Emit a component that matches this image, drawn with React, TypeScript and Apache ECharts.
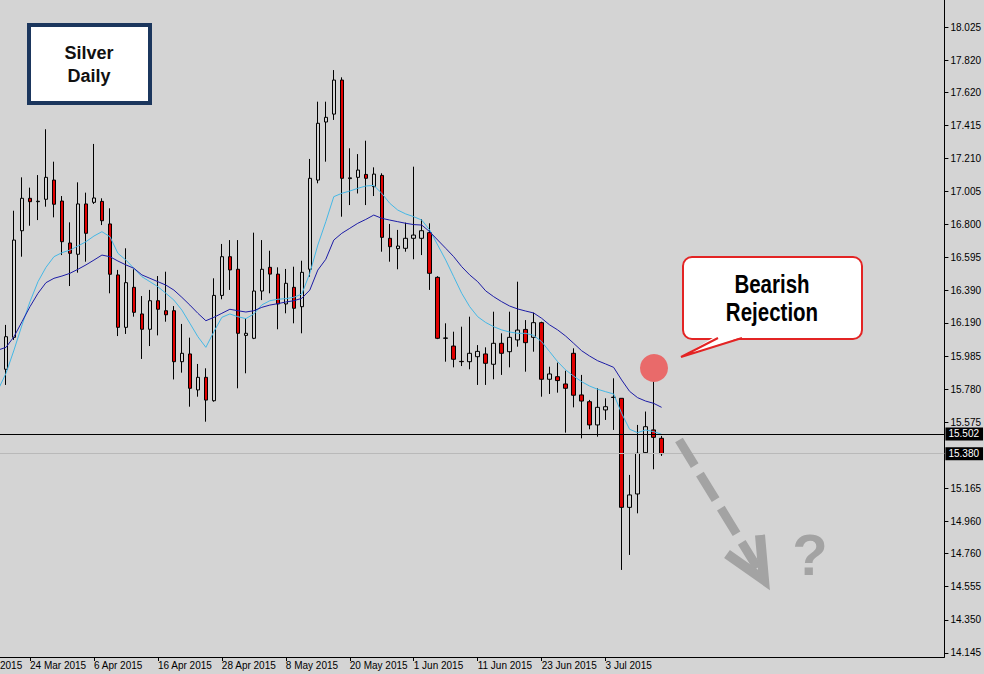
import React, { useEffect, useRef } from "react";
import * as echarts from "echarts";

// ---- data ----
const dates = [
  "2015-03-18", "2015-03-19", "2015-03-20", "2015-03-23", "2015-03-24", "2015-03-25", "2015-03-26", "2015-03-27",
  "2015-03-30", "2015-03-31", "2015-04-01", "2015-04-02", "2015-04-06", "2015-04-07", "2015-04-08", "2015-04-09",
  "2015-04-10", "2015-04-13", "2015-04-14", "2015-04-15", "2015-04-16", "2015-04-17", "2015-04-20", "2015-04-21",
  "2015-04-22", "2015-04-23", "2015-04-24", "2015-04-27", "2015-04-28", "2015-04-29", "2015-04-30", "2015-05-01",
  "2015-05-04", "2015-05-05", "2015-05-06", "2015-05-07", "2015-05-08", "2015-05-11", "2015-05-12", "2015-05-13",
  "2015-05-14", "2015-05-15", "2015-05-18", "2015-05-19", "2015-05-20", "2015-05-21", "2015-05-22", "2015-05-25",
  "2015-05-26", "2015-05-27", "2015-05-28", "2015-05-29", "2015-06-01", "2015-06-02", "2015-06-03", "2015-06-04",
  "2015-06-05", "2015-06-08", "2015-06-09", "2015-06-10", "2015-06-11", "2015-06-12", "2015-06-15", "2015-06-16",
  "2015-06-17", "2015-06-18", "2015-06-19", "2015-06-22", "2015-06-23", "2015-06-24", "2015-06-25", "2015-06-26",
  "2015-06-29", "2015-06-30", "2015-07-01", "2015-07-02", "2015-07-03", "2015-07-06", "2015-07-07", "2015-07-08",
  "2015-07-09", "2015-07-10", "2015-07-13", "2015-07-14",
];

const opens = [
  15.6, 15.903, 16.101, 16.762, 16.963, 16.942, 16.957, 17.076, 16.946, 16.686, 16.616, 16.928, 16.938, 16.944,
  16.804, 16.488, 16.163, 16.411, 16.246, 16.151, 16.328, 16.266, 16.266, 15.95, 15.998, 15.775, 15.853, 15.708,
  16.361, 16.601, 16.523, 16.113, 16.095, 16.388, 16.535, 16.493, 16.308, 16.411, 16.291, 16.523, 17.076, 17.436,
  17.485, 17.696, 17.085, 17.093, 17.111, 17.035, 17.105, 16.715, 16.651, 16.653, 16.715, 16.715, 16.75, 16.473,
  16.095, 16.047, 15.952, 15.95, 15.981, 15.998, 15.934, 16.064, 16.012, 16.085, 16.15, 16.101, 16.192, 15.841,
  15.857, 15.812, 16.002, 15.744, 15.702, 15.558, 15.651, 15.73, 15.723, 15.047, 15.13, 15.386, 15.527, 15.475,
];
const closes = [
  15.86, 16.105, 16.704, 16.963, 16.942, 16.945, 17.093, 16.926, 16.694, 16.622, 16.928, 16.746, 16.965, 16.824,
  16.492, 16.163, 16.44, 16.256, 16.151, 16.328, 16.275, 16.241, 15.95, 16.002, 15.785, 15.853, 15.712, 16.361,
  16.601, 16.519, 16.126, 16.126, 16.388, 16.523, 16.493, 16.308, 16.436, 16.281, 16.504, 17.087, 17.428, 17.465,
  17.696, 17.087, 17.09, 17.138, 17.087, 17.113, 16.721, 16.663, 16.667, 16.715, 16.735, 16.762, 16.498, 16.095,
  16.097, 15.965, 15.95, 16.002, 16.014, 15.94, 16.064, 16.002, 16.101, 16.146, 16.068, 16.192, 15.841, 15.874,
  15.833, 15.785, 15.742, 15.706, 15.558, 15.667, 15.671, 15.728, 15.047, 15.124, 15.382, 15.547, 15.481, 15.38,
];
const lows = [
  15.527, 15.806, 16.085, 16.601, 16.793, 16.828, 16.911, 16.845, 16.611, 16.419, 16.502, 16.57, 16.928, 16.797,
  16.374, 16.109, 16.122, 16.229, 15.967, 16.047, 16.113, 16.198, 15.84, 15.882, 15.671, 15.733, 15.578, 15.702,
  16.337, 16.395, 15.785, 15.878, 16.09, 16.332, 16.374, 16.151, 16.25, 16.188, 16.126, 16.477, 17.056, 17.19,
  17.449, 16.849, 16.921, 16.993, 16.921, 16.977, 16.632, 16.57, 16.523, 16.632, 16.585, 16.611, 16.395, 16.09,
  15.95, 15.915, 15.923, 15.903, 15.806, 15.806, 15.841, 15.868, 15.915, 16.043, 15.888, 16.012, 15.733, 15.75,
  15.758, 15.51, 15.667, 15.475, 15.531, 15.485, 15.589, 15.527, 14.659, 14.752, 15.01, 15.38, 15.283, 15.366,
];
const highs = [
  15.911, 16.178, 16.886, 17.093, 17.029, 17.107, 17.391, 17.19, 16.977, 16.814, 17.062, 16.998, 17.3, 16.963,
  16.901, 16.519, 16.653, 16.523, 16.357, 16.395, 16.481, 16.508, 16.295, 16.184, 16.099, 15.936, 15.909, 16.467,
  16.68, 16.704, 16.704, 16.219, 16.75, 16.704, 16.638, 16.535, 16.525, 16.539, 16.576, 17.207, 17.562, 17.562,
  17.758, 17.713, 17.273, 17.237, 17.32, 17.155, 17.118, 16.804, 16.767, 16.812, 17.159, 16.833, 16.808, 16.48,
  16.188, 16.136, 16.167, 16.229, 16.053, 16.039, 16.26, 16.126, 16.26, 16.446, 16.208, 16.254, 16.198, 15.919,
  15.944, 15.894, 16.033, 15.868, 15.713, 15.785, 15.723, 15.847, 15.723, 15.248, 15.558, 15.641, 15.888, 15.49,
];

// fast moving average (light blue) and slow moving average (dark blue)
const maFast = [
  15.775, 15.878, 16.022, 16.177, 16.322, 16.446, 16.535, 16.601, 16.626, 16.642, 16.667, 16.694, 16.729, 16.756,
  16.725, 16.622, 16.58, 16.529, 16.477, 16.446, 16.415, 16.374, 16.332, 16.27, 16.188, 16.105, 16.039, 16.136,
  16.225, 16.246, 16.229, 16.217, 16.246, 16.302, 16.328, 16.337, 16.341, 16.349, 16.37, 16.498, 16.673, 16.818,
  16.973, 16.994, 17.008, 17.025, 17.039, 17.043, 16.994, 16.932, 16.89, 16.866, 16.849, 16.828, 16.766, 16.673,
  16.58, 16.477, 16.374, 16.291, 16.229, 16.193, 16.167, 16.147, 16.134, 16.126, 16.126, 16.113, 16.074, 16.012,
  15.95, 15.899, 15.861, 15.826, 15.799, 15.779, 15.764, 15.75, 15.63, 15.531, 15.51, 15.527, 15.516, 15.5,
];
const maSlow = [
  16.022, 16.039, 16.105, 16.198, 16.291, 16.374, 16.44, 16.467, 16.481, 16.498, 16.523, 16.55, 16.58, 16.611,
  16.601, 16.574, 16.55, 16.529, 16.488, 16.467, 16.446, 16.425, 16.394, 16.349, 16.301, 16.25, 16.204, 16.225,
  16.25, 16.275, 16.266, 16.258, 16.266, 16.287, 16.301, 16.31, 16.32, 16.328, 16.343, 16.394, 16.518, 16.585,
  16.704, 16.746, 16.777, 16.808, 16.832, 16.859, 16.839, 16.828, 16.818, 16.808, 16.8, 16.797, 16.756, 16.704,
  16.653, 16.601, 16.539, 16.488, 16.446, 16.389, 16.353, 16.322, 16.295, 16.277, 16.264, 16.252, 16.219, 16.178,
  16.147, 16.109, 16.064, 16.018, 15.985, 15.956, 15.936, 15.915, 15.837, 15.766, 15.727, 15.706, 15.692, 15.667,
];

const priceTicks = [
  18.025, 17.82, 17.62, 17.415, 17.21, 17.005, 16.8, 16.595, 16.39, 16.19, 15.985, 15.78, 15.575,
  15.165, 14.96, 14.76, 14.555, 14.35, 14.145,
];
const dateTickIndices = [4, 12, 20, 28, 36, 44, 52, 60, 68, 76];
const hiddenFirstLabel = "2015"; // visible tail of the "12 Mar 2015" label cut by the left edge
const levelLine = 15.502;
const bidLine = 15.38;

const MONTHS = ["Jan", "Feb", "Mar", "Apr", "May", "Jun", "Jul", "Aug", "Sep", "Oct", "Nov", "Dec"];
function fmtDate(s: string): string {
  if (!s) return "";
  const [y, m, d] = s.split("-").map(Number);
  return `${d} ${MONTHS[m - 1]} ${y}`;
}

const BG = "#d4d4d4";
const GRAY = "#a3a3a3";
const AXIS_FONT = "'Liberation Sans', Arial, sans-serif";

export default function App() {
  const ref = useRef<HTMLDivElement>(null);

  useEffect(() => {
    if (!ref.current) return;
    const chart = echarts.init(ref.current, undefined, { renderer: "svg" });

    const candleData = opens.map((o, i) => [i, o, closes[i], lows[i], highs[i]]);
    const fastData = maFast.map((v, i) => [i, v]);
    const slowData = maSlow.map((v, i) => [i, v]);

    const boxLabel = (v: number) => ({
      show: true,
      position: "end" as const,
      distance: 1,
      backgroundColor: "#000",
      color: "#fff",
      padding: [2, 4, 1, 3],
      fontSize: 10,
      fontFamily: AXIS_FONT,
      formatter: () => v.toFixed(3),
    });

    const option: any = {
      animation: false,
      backgroundColor: BG,
      grid: { left: 0, right: 38, top: 0, bottom: 17, containLabel: false },
      xAxis: {
        type: "value",
        min: 0.25,
        max: 118.375,
        axisLine: { show: true, onZero: false, lineStyle: { color: "#000", width: 1 } },
        axisTick: {
          show: true,
          customValues: dateTickIndices,
          length: 4,
          lineStyle: { color: "#000" },
        },
        axisLabel: {
          show: true,
          customValues: dateTickIndices,
          formatter: (v: number) => fmtDate(dates[Math.round(v)]),
          align: "left",
          margin: 3,
          fontSize: 10,
          color: "#000",
          fontFamily: AXIS_FONT,
        },
        splitLine: { show: false },
      },
      yAxis: {
        type: "value",
        position: "right",
        min: 14.1192,
        max: 18.1924,
        axisLine: { show: true, lineStyle: { color: "#000", width: 1 } },
        axisTick: {
          show: true,
          customValues: priceTicks,
          length: 4,
          lineStyle: { color: "#000" },
        },
        axisLabel: {
          show: true,
          customValues: priceTicks,
          formatter: (v: number) => v.toFixed(3),
          margin: 6,
          fontSize: 10,
          color: "#000",
          fontFamily: AXIS_FONT,
        },
        splitLine: { show: false },
      },
      series: [
        {
          type: "candlestick",
          data: candleData,
          encode: { x: 0, y: [1, 2, 3, 4] },
          barWidth: 4,
          clip: true,
          itemStyle: {
            color: BG,
            color0: "#e00000",
            borderColor: "#000",
            borderColor0: "#000",
            borderWidth: 1,
          },
          markLine: {
            silent: true,
            symbol: ["none", "none"],
            precision: 3,
            data: [
              { yAxis: levelLine, lineStyle: { color: "#000", width: 1, type: "solid" }, label: boxLabel(levelLine) },
              { yAxis: bidLine, lineStyle: { color: "#b9b9b9", width: 1, type: "solid" }, label: boxLabel(bidLine) },
            ],
          },
          z: 3,
        },
        {
          type: "line",
          data: fastData,
          symbol: "none",
          lineStyle: { color: "#45b8e6", width: 1 },
          z: 4,
        },
        {
          type: "line",
          data: slowData,
          symbol: "none",
          lineStyle: { color: "#1c1ca6", width: 1 },
          z: 4,
        },
      ],
      graphic: [
        {
          type: "text",
          x: 0,
          y: 660,
          z: 5,
          style: { text: hiddenFirstLabel, fill: "#000", font: `10px ${AXIS_FONT}`, textAlign: "left", align: "left", textVerticalAlign: "top", verticalAlign: "top" },
        },
        {
          type: "rect",
          z: 10,
          shape: { x: 29, y: 25, width: 121, height: 78 },
          style: { fill: "#fff", stroke: "#1b365d", lineWidth: 4 },
        },
        {
          type: "text",
          z: 11,
          x: 89,
          y: 53,
          style: { text: "Silver", fill: "#111", font: `bold 18px ${AXIS_FONT}`, textAlign: "center", align: "center", textVerticalAlign: "middle", verticalAlign: "middle" },
        },
        {
          type: "text",
          z: 11,
          x: 89,
          y: 76,
          style: { text: "Daily", fill: "#111", font: `bold 18px ${AXIS_FONT}`, textAlign: "center", align: "center", textVerticalAlign: "middle", verticalAlign: "middle" },
        },
        {
          type: "rect",
          z: 10,
          shape: { x: 683, y: 257, width: 179, height: 82, r: 9 },
          style: { fill: "#fff", stroke: "#e32424", lineWidth: 2 },
        },
        {
          type: "polygon",
          z: 11,
          shape: { points: [[716, 336], [681, 357], [745, 336]] },
          style: { fill: "#fff", stroke: "none" },
        },
        {
          type: "polyline",
          z: 12,
          shape: { points: [[718, 338], [681, 357], [742, 338]] },
          style: { stroke: "#e32424", lineWidth: 2, fill: "none" },
        },
        {
          type: "text",
          z: 12,
          x: 772,
          y: 284,
          scaleX: 0.82,
          style: { text: "Bearish", fill: "#000", font: `bold 25px ${AXIS_FONT}`, textAlign: "center", align: "center", textVerticalAlign: "middle", verticalAlign: "middle" },
        },
        {
          type: "text",
          z: 12,
          x: 772,
          y: 312,
          scaleX: 0.82,
          style: { text: "Rejection", fill: "#000", font: `bold 25px ${AXIS_FONT}`, textAlign: "center", align: "center", textVerticalAlign: "middle", verticalAlign: "middle" },
        },
        {
          type: "circle",
          z: 10,
          shape: { cx: 654, cy: 368, r: 14 },
          style: { fill: "#e96a6a" },
        },
        {
          type: "line",
          z: 10,
          shape: { x1: 679, y1: 440, x2: 760, y2: 572 },
          style: { stroke: GRAY, lineWidth: 9, lineDash: [30, 10] },
        },
        {
          type: "polyline",
          z: 10,
          shape: { points: [[727, 554], [764, 580], [760, 535]] },
          style: { stroke: GRAY, lineWidth: 10, fill: "none", lineJoin: "miter" },
        },
        {
          type: "text",
          z: 10,
          x: 810,
          y: 554,
          style: { text: "?", fill: GRAY, font: `bold 58px ${AXIS_FONT}`, textAlign: "center", align: "center", textVerticalAlign: "middle", verticalAlign: "middle" },
        },
      ],
    };

    chart.setOption(option);
    return () => chart.dispose();
  }, []);

  return (
    <div
      ref={ref}
      style={{ position: "fixed", left: 0, top: 0, width: 984, height: 674 }}
    />
  );
}
